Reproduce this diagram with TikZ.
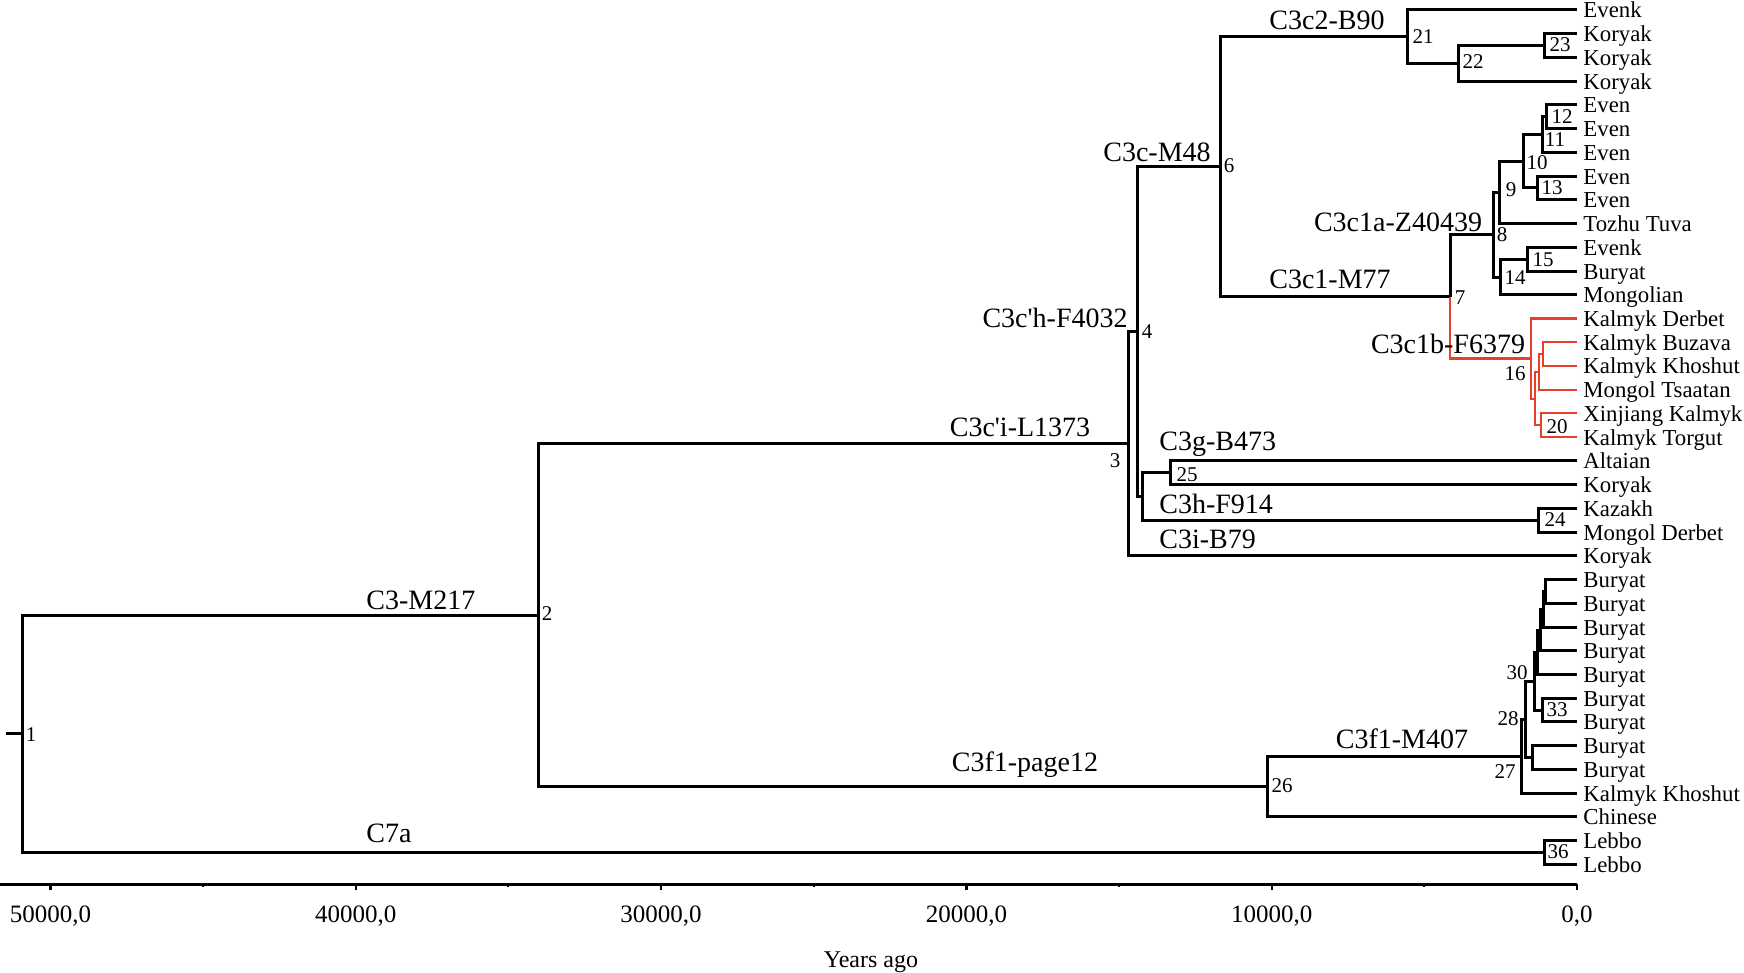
\documentclass[tikz,border=0pt]{standalone}
\usepackage{fontspec}
\newfontfamily\lib{Liberation Serif}
\definecolor{kred}{RGB}{232,64,40}
\begin{document}
\begin{tikzpicture}[x=0.5pt,y=-0.5pt,
  br/.style={line width=1.5pt, line join=miter},
  rbr/.style={line width=1.05pt, draw=kred, line join=miter},
  tiplab/.style={anchor=west, inner xsep=3pt, inner ysep=0pt, font=\lib\fontsize{11.4}{13}\selectfont, text height=8.5pt, text depth=0.5pt},
  num/.style={font=\lib\fontsize{10.5}{12}\selectfont, inner sep=0pt},
  clade/.style={font=\lib\fontsize{14}{16}\selectfont, inner sep=0pt, anchor=base},
  axlab/.style={font=\lib\fontsize{12.5}{14}\selectfont, inner sep=0pt},
  axline/.style={line width=1.5pt}]
\useasboundingbox (0,0) rectangle (1744,973);

% internal nodes
\coordinate (r0) at (6,733.8);
\coordinate (n1) at (22,733.8);
\coordinate (n2) at (538,615.1);
\coordinate (n3) at (1128,443.7);
\coordinate (n4) at (1137,331.6);
\coordinate (n5) at (1142,496.4);
\coordinate (n25) at (1170,472.7);
\coordinate (n24) at (1538,520.2);
\coordinate (n6) at (1220,166.7);
\coordinate (n21) at (1407,36.7);
\coordinate (n22) at (1458,63.4);
\coordinate (n23) at (1544,45.6);
\coordinate (n7) at (1450,296.6);
\coordinate (n8) at (1493,234.7);
\coordinate (n9) at (1499,192.4);
\coordinate (n10) at (1523,161.3);
\coordinate (n11) at (1542,134.6);
\coordinate (n12) at (1546,116.8);
\coordinate (n13) at (1537,188.0);
\coordinate (n14) at (1500,277.0);
\coordinate (n15) at (1527,259.2);
\coordinate (n16) at (1531,358.5);
\coordinate (nZ) at (1535,398.6);
\coordinate (nY) at (1539,371.9);
\coordinate (nX) at (1543,354.1);
\coordinate (n20) at (1541,425.3);
\coordinate (n26) at (1267,786.5);
\coordinate (n27) at (1521,756.2);
\coordinate (n28) at (1525,719.3);
\coordinate (n30) at (1534,681.1);
\coordinate (nD) at (1537,652.2);
\coordinate (nC) at (1540,630.0);
\coordinate (nB) at (1543,609.2);
\coordinate (nA) at (1545,591.4);
\coordinate (n33) at (1542,710.0);
\coordinate (nE) at (1532,757.5);
\coordinate (n36) at (1544,852.4);

% tip labels
\node[tiplab] (L1) at (1577,10.0) {Evenk};
\node[tiplab] (L2) at (1577,33.7) {Koryak};
\node[tiplab] (L3) at (1577,57.5) {Koryak};
\node[tiplab] (L4) at (1577,81.2) {Koryak};
\node[tiplab] (L5) at (1577,104.9) {Even};
\node[tiplab] (L6) at (1577,128.7) {Even};
\node[tiplab] (L7) at (1577,152.4) {Even};
\node[tiplab] (L8) at (1577,176.1) {Even};
\node[tiplab] (L9) at (1577,199.8) {Even};
\node[tiplab] (L10) at (1577,223.6) {Tozhu Tuva};
\node[tiplab] (L11) at (1577,247.3) {Evenk};
\node[tiplab] (L12) at (1577,271.0) {Buryat};
\node[tiplab] (L13) at (1577,294.8) {Mongolian};
\node[tiplab] (L14) at (1577,318.5) {Kalmyk Derbet};
\node[tiplab] (L15) at (1577,342.2) {Kalmyk Buzava};
\node[tiplab] (L16) at (1577,365.9) {Kalmyk Khoshut};
\node[tiplab] (L17) at (1577,389.7) {Mongol Tsaatan};
\node[tiplab] (L18) at (1577,413.4) {Xinjiang Kalmyk};
\node[tiplab] (L19) at (1577,437.1) {Kalmyk Torgut};
\node[tiplab] (L20) at (1577,460.9) {Altaian};
\node[tiplab] (L21) at (1577,484.6) {Koryak};
\node[tiplab] (L22) at (1577,508.3) {Kazakh};
\node[tiplab] (L23) at (1577,532.0) {Mongol Derbet};
\node[tiplab] (L24) at (1577,555.8) {Koryak};
\node[tiplab] (L25) at (1577,579.5) {Buryat};
\node[tiplab] (L26) at (1577,603.2) {Buryat};
\node[tiplab] (L27) at (1577,627.0) {Buryat};
\node[tiplab] (L28) at (1577,650.7) {Buryat};
\node[tiplab] (L29) at (1577,674.4) {Buryat};
\node[tiplab] (L30) at (1577,698.1) {Buryat};
\node[tiplab] (L31) at (1577,721.9) {Buryat};
\node[tiplab] (L32) at (1577,745.6) {Buryat};
\node[tiplab] (L33) at (1577,769.3) {Buryat};
\node[tiplab] (L34) at (1577,793.1) {Kalmyk Khoshut};
\node[tiplab] (L35) at (1577,816.8) {Chinese};
\node[tiplab] (L36) at (1577,840.5) {Lebbo};
\node[tiplab] (L37) at (1577,864.2) {Lebbo};

% black branches
\draw[br] (r0) -- (n1);
\draw[br] (n1) |- (n2);
\draw[br] (n1) |- (n36);
\draw[br] (n36) |- (L36.west);
\draw[br] (n36) |- (L37.west);
\draw[br] (n2) |- (n3);
\draw[br] (n2) |- (n26);
\draw[br] (n3) |- (n4);
\draw[br] (n3) |- (L24.west);
\draw[br] (n4) |- (n6);
\draw[br] (n4) |- (n5);
\draw[br] (n5) |- (n25);
\draw[br] (n5) |- (n24);
\draw[br] (n25) |- (L20.west);
\draw[br] (n25) |- (L21.west);
\draw[br] (n24) |- (L22.west);
\draw[br] (n24) |- (L23.west);
\draw[br] (n6) |- (n21);
\draw[br] (n6) |- (n7);
\draw[br] (n21) |- (L1.west);
\draw[br] (n21) |- (n22);
\draw[br] (n22) |- (n23);
\draw[br] (n22) |- (L4.west);
\draw[br] (n23) |- (L2.west);
\draw[br] (n23) |- (L3.west);
\draw[br] (n7) |- (n8);
\draw[br] (n8) |- (n9);
\draw[br] (n8) |- (n14);
\draw[br] (n9) |- (n10);
\draw[br] (n9) |- (L10.west);
\draw[br] (n10) |- (n11);
\draw[br] (n10) |- (n13);
\draw[br] (n11) |- (n12);
\draw[br] (n11) |- (L7.west);
\draw[br] (n12) |- (L5.west);
\draw[br] (n12) |- (L6.west);
\draw[br] (n13) |- (L8.west);
\draw[br] (n13) |- (L9.west);
\draw[br] (n14) |- (n15);
\draw[br] (n14) |- (L13.west);
\draw[br] (n15) |- (L11.west);
\draw[br] (n15) |- (L12.west);
\draw[br] (n26) |- (n27);
\draw[br] (n26) |- (L35.west);
\draw[br] (n27) |- (n28);
\draw[br] (n27) |- (L34.west);
\draw[br] (n28) |- (n30);
\draw[br] (n28) |- (nE);
\draw[br] (n30) |- (nD);
\draw[br] (n30) |- (n33);
\draw[br] (nD) |- (nC);
\draw[br] (nD) |- (L29.west);
\draw[br] (nC) |- (nB);
\draw[br] (nC) |- (L28.west);
\draw[br] (nB) |- (nA);
\draw[br] (nB) |- (L27.west);
\draw[br] (nA) |- (L25.west);
\draw[br] (nA) |- (L26.west);
\draw[br] (n33) |- (L30.west);
\draw[br] (n33) |- (L31.west);
\draw[br] (nE) |- (L32.west);
\draw[br] (nE) |- (L33.west);

% red clade
\draw[rbr] (n7) |- (n16);
\draw[rbr] (n16) |- (L14.west);
\draw[rbr] (n16) |- (nZ);
\draw[rbr] (nZ) |- (nY);
\draw[rbr] (nZ) |- (n20);
\draw[rbr] (nY) |- (nX);
\draw[rbr] (nY) |- (L17.west);
\draw[rbr] (nX) |- (L15.west);
\draw[rbr] (nX) |- (L16.west);
\draw[rbr] (n20) |- (L18.west);
\draw[rbr] (n20) |- (L19.west);

% clade labels
\node[clade] (cB90) at (1327,30) {C3c2-B90};
\node[clade] (cM48) at (1157,162) {C3c-M48};
\node[clade] (cM77) at (1330,288) {C3c1-M77};
\node[clade] (cZ) at (1398,232) {C3c1a-Z40439};
\node[clade] (cF6379) at (1448,353) {C3c1b-F6379};
\node[clade, anchor=base east] (cF4032) at (1128,327) {C3c'h-F4032};
\node[clade] (cL1373) at (1020,436) {C3c'i-L1373};
\node[clade, anchor=base west] (cB473) at (1159,450) {C3g-B473};
\node[clade, anchor=base west] (cF914) at (1159,513) {C3h-F914};
\node[clade, anchor=base west] (cB79) at (1159,548) {C3i-B79};
\node[clade, anchor=base west] (cM217) at (366,609) {C3-M217};
\node[clade] (cpage) at (1025,771) {C3f1-page12};
\node[clade] (cM407) at (1402,748) {C3f1-M407};
\node[clade, anchor=base west] (cC7a) at (366,842) {C7a};

% node numbers
\node[num] (k1) at (31,735) {1};
\node[num] (k2) at (547,614) {2};
\node[num] (k3) at (1115,461) {3};
\node[num] (k4) at (1147,332) {4};
\node[num] (k6) at (1229,166) {6};
\node[num] (k7) at (1460,298) {7};
\node[num] (k8) at (1502,235) {8};
\node[num] (k9) at (1511,190) {9};
\node[num] (k10) at (1537,163) {10};
\node[num] (k11) at (1555,140) {11};
\node[num] (k12) at (1562,117) {12};
\node[num] (k13) at (1552,188) {13};
\node[num] (k14) at (1515,278) {14};
\node[num] (k15) at (1543,260) {15};
\node[num] (k16) at (1515,374) {16};
\node[num] (k20) at (1557,427) {20};
\node[num] (k21) at (1423,37) {21};
\node[num] (k22) at (1473,62) {22};
\node[num] (k23) at (1560,45) {23};
\node[num] (k24) at (1555,520) {24};
\node[num] (k25) at (1187,475) {25};
\node[num] (k26) at (1282,786) {26};
\node[num] (k27) at (1505,772) {27};
\node[num] (k28) at (1508,719) {28};
\node[num] (k30) at (1517,673) {30};
\node[num] (k33) at (1557,710) {33};
\node[num] (k36) at (1558,852) {36};

% axis
\coordinate (axL) at (0,884);
\coordinate (axR) at (1577,884);
\draw[axline] (axL) -- (axR);
\foreach \i/\lab in {0/{0,0},1/{10000,0},2/{20000,0},3/{30000,0},4/{40000,0},5/{50000,0}} {
  \draw[line width=1.2pt] ({1577-305.3*\i},884) -- ++(0,6);
  \node[axlab] (ax\i) at ({1577-305.3*\i},916) {\lab};
}
\foreach \i in {0,...,4} {
  \draw[line width=1pt] ({1577-152.65-305.3*\i},884) -- ++(0,3);
}
\node[axlab, anchor=base, font=\lib\fontsize{12}{14}\selectfont] (ytitle) at (871,967) {Years ago};
\end{tikzpicture}
\end{document}
